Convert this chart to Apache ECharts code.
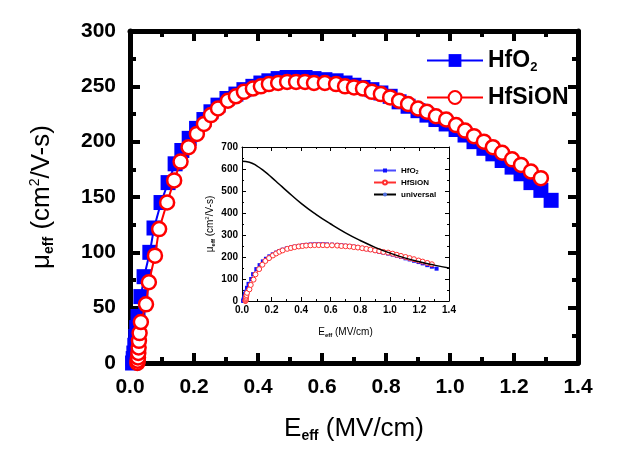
<!DOCTYPE html>
<html>
<head>
<meta charset="utf-8">
<script src="https://cdn.jsdelivr.net/npm/echarts@6/dist/echarts.min.js"></script>
<style>
  html, body { margin: 0; padding: 0; background: #fff; }
  #chart { width: 618px; height: 452px; }
</style>
</head>
<body>
<div id="chart"></div>
<script>
// HfO2 (blue squares)
const hfo2X = [0.008, 0.010, 0.012, 0.015, 0.018, 0.021, 0.025, 0.034, 0.044, 0.062, 0.075, 0.097, 0.119, 0.141,
  0.162, 0.185, 0.208, 0.231, 0.253, 0.275, 0.303, 0.331, 0.356, 0.384, 0.409, 0.434, 0.463, 0.491, 0.519, 0.547,
  0.575, 0.609, 0.644, 0.672, 0.700, 0.728, 0.756, 0.784, 0.813, 0.841, 0.869, 0.900, 0.928, 0.956, 0.988, 1.019,
  1.047, 1.075, 1.106, 1.134, 1.163, 1.194, 1.222, 1.253, 1.284, 1.316];
const hfo2Y = [0, 4, 9, 16, 24, 32, 42, 60, 78, 100, 122, 145, 163, 180,
  192, 203, 212, 220, 227, 233, 239, 243, 247, 250, 253, 255, 257, 258, 258, 258,
  257, 256, 255, 253, 251, 249, 247, 244, 241, 236, 232, 228, 224, 220, 216, 211,
  206, 200, 194, 189, 183, 177, 171, 163, 156, 147];

// HfSiON (red open circles)
const hfsionX = [0.023, 0.024, 0.025, 0.026, 0.027, 0.028, 0.030, 0.034, 0.050, 0.059, 0.078, 0.091, 0.116, 0.138,
  0.158, 0.183, 0.209, 0.231, 0.253, 0.275, 0.306, 0.331, 0.356, 0.384, 0.409, 0.434, 0.463, 0.491, 0.519, 0.547,
  0.575, 0.609, 0.644, 0.672, 0.700, 0.728, 0.756, 0.784, 0.813, 0.841, 0.869, 0.900, 0.928, 0.956, 0.988, 1.019,
  1.047, 1.075, 1.106, 1.134, 1.163, 1.194, 1.222, 1.253, 1.284];
const hfsionY = [0, 2, 5, 9, 14, 20, 27, 37, 53, 73, 97, 121, 145, 165,
  182, 195, 207, 216, 224, 230, 237, 241, 245, 248, 250, 252, 253, 254, 254, 254,
  253, 253, 252, 250, 249, 248, 245, 243, 240, 237, 234, 230, 227, 223, 220, 215,
  210, 205, 200, 195, 190, 184, 179, 173, 167];

// universal mobility curve (inset)
const univX = [0, 0.05, 0.1, 0.15, 0.2, 0.25, 0.3, 0.4, 0.5, 0.6, 0.7, 0.8, 0.9, 1.0, 1.1, 1.2, 1.3, 1.4];
const univY = [635, 631, 614, 590, 562, 532, 502, 444, 394, 350, 310, 275, 244, 218, 196, 178, 163, 150];

const mainXTicks = [0, 1.4, 0.2];
const mainYTicks = [0, 300, 50];
const insetYTicks = [0, 700, 100];

const zip = (xs, ys) => xs.map((x, i) => [x, ys[i]]);
const FONT = 'Liberation Sans, Arial, sans-serif';

function axisPair(opt) {
  // one labelled axis plus its mirror with inward ticks only
  const base = {
    type: 'value',
    gridIndex: opt.grid,
    min: opt.ticks[0], max: opt.ticks[1], interval: opt.ticks[2],
    splitLine: { show: false },
    axisLine: { show: true, onZero: false, lineStyle: { color: '#000', width: opt.lw } },
    axisTick: { show: true, inside: true, length: opt.major, lineStyle: { color: '#000', width: opt.tw } },
    minorTick: { show: true, splitNumber: 2, length: opt.minor, lineStyle: { color: '#000', width: opt.tw } },
    minorSplitLine: { show: false }
  };
  const a = Object.assign({}, base, {
    position: opt.pos[0],
    axisLabel: {
      color: '#000', fontFamily: FONT, fontWeight: 'bold', fontSize: opt.fs, margin: opt.margin,
      formatter: opt.fmt
    }
  }, opt.extra || {});
  const b = Object.assign({}, base, { position: opt.pos[1], axisLabel: { show: false } });
  return [a, b];
}

const fmt1 = v => v.toFixed(1);

const mainX = axisPair({ grid: 0, ticks: mainXTicks, pos: ['bottom', 'top'], lw: 5, tw: 4, major: 10, minor: 6,
  fs: 21, margin: 14, fmt: fmt1,
  extra: {
    name: '{a|E}{b|eff}{a| (MV/cm)}', nameLocation: 'middle', nameGap: 52,
    nameTextStyle: {
      color: '#000', fontFamily: FONT,
      rich: {
        a: { fontSize: 26, fontFamily: FONT, color: '#000', lineHeight: 28 },
        b: { fontSize: 14, fontFamily: FONT, fontWeight: 'bold', color: '#000', verticalAlign: 'bottom', lineHeight: 6 }
      }
    }
  } });
const mainY = axisPair({ grid: 0, ticks: mainYTicks, pos: ['left', 'right'], lw: 5, tw: 4, major: 10, minor: 6,
  fs: 21, margin: 14, fmt: v => String(v),
  extra: {
    name: '{a|μ}{b|eff}{a| (cm}{c|2}{a|/V-s)}', nameLocation: 'middle', nameGap: 74,
    nameTextStyle: {
      color: '#000', fontFamily: FONT,
      rich: {
        a: { fontSize: 26, fontFamily: FONT, color: '#000', lineHeight: 28 },
        b: { fontSize: 14, fontFamily: FONT, fontWeight: 'bold', color: '#000', verticalAlign: 'bottom', lineHeight: 6 },
        c: { fontSize: 14, fontFamily: FONT, color: '#000', verticalAlign: 'top', lineHeight: 8 }
      }
    }
  } });
const insetX = axisPair({ grid: 1, ticks: mainXTicks, pos: ['bottom', 'top'], lw: 1, tw: 1, major: 4, minor: 2,
  fs: 10, margin: 4, fmt: fmt1,
  extra: {
    name: '{a|E}{b|eff}{a| (MV/cm)}', nameLocation: 'middle', nameGap: 25,
    nameTextStyle: {
      color: '#000', fontFamily: FONT,
      rich: {
        a: { fontSize: 10, fontFamily: FONT, color: '#000', lineHeight: 12 },
        b: { fontSize: 6, fontFamily: FONT, fontWeight: 'bold', color: '#000', verticalAlign: 'bottom', lineHeight: 2 }
      }
    }
  } });
const insetY = axisPair({ grid: 1, ticks: insetYTicks, pos: ['left', 'right'], lw: 1, tw: 1, major: 4, minor: 2,
  fs: 10, margin: 4, fmt: v => String(v),
  extra: {
    name: '{a|μ}{b|eff}{a| (cm}{c|2}{a|/V-s)}', nameLocation: 'middle', nameGap: 26,
    nameTextStyle: {
      color: '#000', fontFamily: FONT,
      rich: {
        a: { fontSize: 10, fontFamily: FONT, color: '#000', lineHeight: 12 },
        b: { fontSize: 6, fontFamily: FONT, fontWeight: 'bold', color: '#000', verticalAlign: 'bottom', lineHeight: 2 },
        c: { fontSize: 6, fontFamily: FONT, color: '#000', verticalAlign: 'top', lineHeight: 3 }
      }
    }
  } });

const legendRich = (big, small) => ({
  n: { fontSize: big, fontWeight: 'bold', fontFamily: FONT, color: '#000' },
  s: { fontSize: small, fontWeight: 'bold', fontFamily: FONT, color: '#000', verticalAlign: 'bottom', lineHeight: Math.round(small / 2) }
});
const legendFmt = name => {
  if (name.indexOf('HfO2') === 0) return '{n|HfO}{s|2}';
  if (name.indexOf('HfSiON') === 0) return '{n|HfSiON}';
  return '{n|universal}';
};

const chart = echarts.init(document.getElementById('chart'), null, { renderer: 'canvas' });
chart.setOption({
  animation: false,
  backgroundColor: '#fff',
  grid: [
    { left: 130, top: 31, width: 448, height: 332 },
    { left: 242, top: 147, width: 207, height: 154 }
  ],
  xAxis: [mainX[0], mainX[1], insetX[0], insetX[1]],
  yAxis: [mainY[0], mainY[1], insetY[0], insetY[1]],
  legend: [
    {
      data: ['HfO2', 'HfSiON'], orient: 'vertical', left: 421, top: 42,
      itemWidth: 56, itemHeight: 16, itemGap: 10,
      formatter: legendFmt,
      textStyle: { lineHeight: 27, rich: legendRich(23, 13) }
    },
    {
      data: ['HfO2 inset', 'HfSiON inset', 'universal'], orient: 'vertical', left: 368, top: 161,
      itemWidth: 22, itemHeight: 5, itemGap: 3,
      formatter: legendFmt,
      textStyle: { lineHeight: 9, rich: legendRich(8, 5) }
    }
  ],
  series: [
    {
      name: 'HfO2', type: 'line', xAxisIndex: 0, yAxisIndex: 0,
      data: zip(hfo2X, hfo2Y), symbol: 'rect', symbolSize: 15,
      itemStyle: { color: '#0000ff' }, lineStyle: { color: '#0000ff', width: 2 }, z: 2
    },
    {
      name: 'HfSiON', type: 'line', xAxisIndex: 0, yAxisIndex: 0,
      data: zip(hfsionX, hfsionY), symbol: 'circle', symbolSize: 14,
      itemStyle: { color: '#fff', borderColor: '#ff0000', borderWidth: 2.5 },
      lineStyle: { color: '#ff0000', width: 2 }, z: 3
    },
    {
      name: 'HfO2 inset', type: 'line', xAxisIndex: 2, yAxisIndex: 2,
      data: zip(hfo2X, hfo2Y), symbol: 'rect', symbolSize: 4,
      itemStyle: { color: '#1010ff' }, lineStyle: { color: '#4a4aff', width: 1 }, z: 2
    },
    {
      name: 'HfSiON inset', type: 'line', xAxisIndex: 2, yAxisIndex: 2,
      data: zip(hfsionX, hfsionY), symbol: 'circle', symbolSize: 5,
      itemStyle: { color: '#fff', borderColor: '#ff3030', borderWidth: 1 },
      lineStyle: { color: '#ff3030', width: 1 }, z: 3
    },
    {
      name: 'universal', type: 'line', xAxisIndex: 2, yAxisIndex: 2,
      data: zip(univX, univY), symbol: 'none', smooth: true,
      lineStyle: { color: '#000', width: 1.5 }, z: 4
    }
  ]
});
</script>
</body>
</html>
